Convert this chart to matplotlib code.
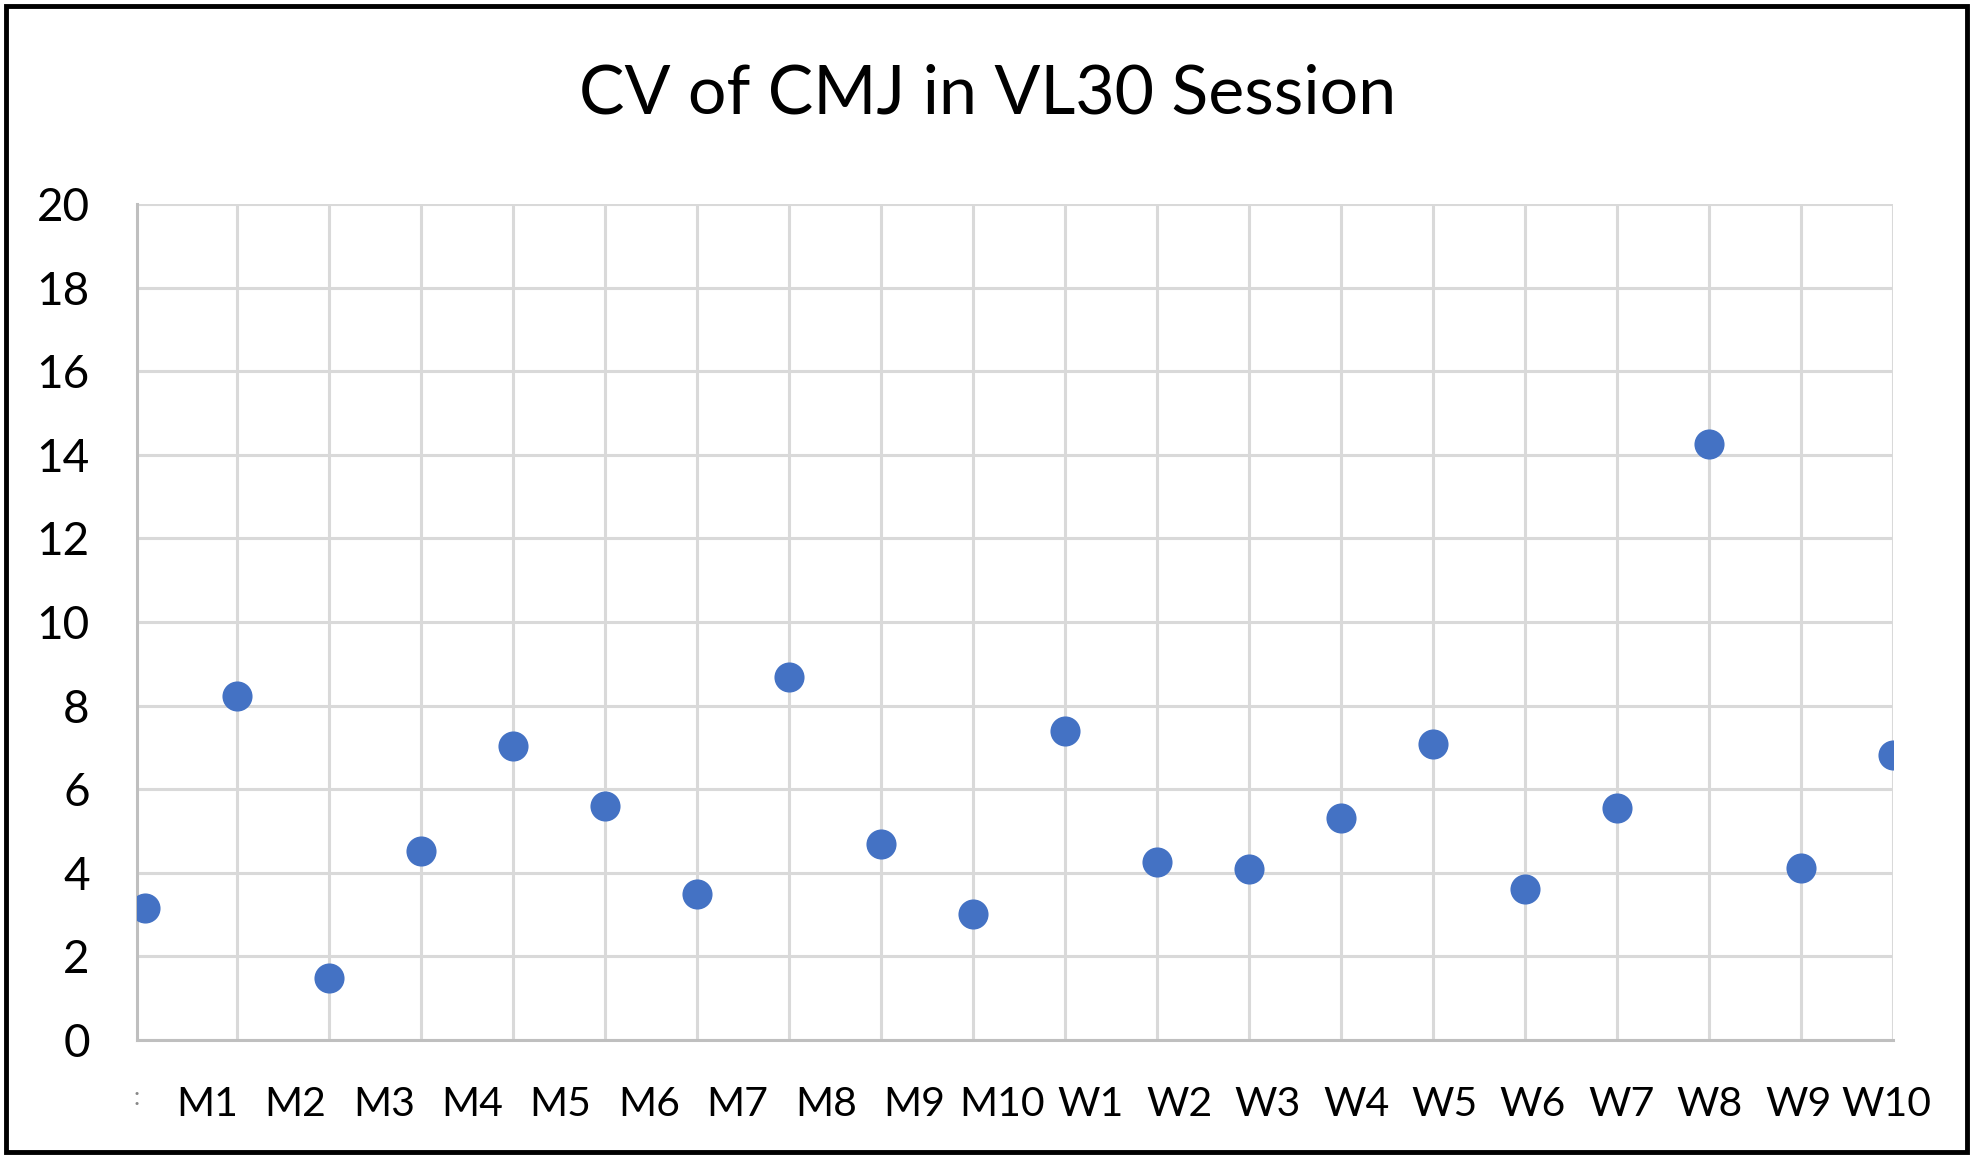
import matplotlib.pyplot as plt
import numpy as np
from matplotlib.patches import Rectangle

# CV of CMJ per subject, VL30 session
subjects = ['M1', 'M2', 'M3', 'M4', 'M5', 'M6', 'M7', 'M8', 'M9', 'M10',
            'W1', 'W2', 'W3', 'W4', 'W5', 'W6', 'W7', 'W8', 'W9', 'W10']
cv = [3.15, 8.23, 1.48, 4.52, 7.03, 5.61, 3.50, 8.69, 4.68, 3.02,
      7.39, 4.25, 4.10, 5.31, 7.09, 3.62, 5.55, 14.26, 4.12, 6.82]
y_ticks = [0, 2, 4, 6, 8, 10, 12, 14, 16, 18, 20]

plt.rcParams['font.family'] = ['Lato', 'DejaVu Sans']

fig = plt.figure(figsize=(19.75, 11.6), dpi=100)
ax = fig.add_axes([137 / 1975, 1 - 1040 / 1160, (1893 - 137) / 1975, (1040 - 204) / 1160])

x = np.arange(len(cv))
ax.scatter(x, cv, s=470, color='#4472C4', zorder=3, linewidths=0)

ax.set_xlim(0, len(cv) - 1)
ax.set_ylim(0, 20)
ax.set_yticks(y_ticks)
ax.set_yticklabels([str(t) for t in y_ticks], fontsize=33)

# vertical gridlines at every point position (skip 0, the spine is there)
ax.set_xticks(x[1:], minor=True)
ax.grid(True, which='minor', axis='x', color='#D9D9D9', linewidth=2.2)
ax.grid(True, which='major', axis='y', color='#D9D9D9', linewidth=2.2)
ax.set_axisbelow(True)

# category labels sit a bit off the gridlines, like the excel export
lab_pos = np.r_[-0.09, np.linspace(0.67, 18.93, len(subjects))]
ax.set_xticks(lab_pos)
ax.set_xticklabels([':'] + subjects, fontsize=29.5)
ax.get_xticklabels()[0].set_color('#888888')
ax.get_xticklabels()[0].set_fontsize(18)
ax.tick_params(axis='both', which='both', length=0)
ax.tick_params(axis='x', pad=33)
ax.tick_params(axis='y', pad=34)

for s in ['top', 'right']:
    ax.spines[s].set_visible(False)
for s in ['left', 'bottom']:
    ax.spines[s].set_color('#BFBFBF')
    ax.spines[s].set_linewidth(2.2)

fig.suptitle('CV of CMJ in VL30 Session', fontsize=49, y=1 - 94 / 1160, va='center')

fig.patches.append(Rectangle((6 / 1975, 8 / 1160), 1961 / 1975, 1146 / 1160,
                             transform=fig.transFigure, fill=False,
                             edgecolor='black', linewidth=3.5))

fig.savefig('out.png', dpi=100)
